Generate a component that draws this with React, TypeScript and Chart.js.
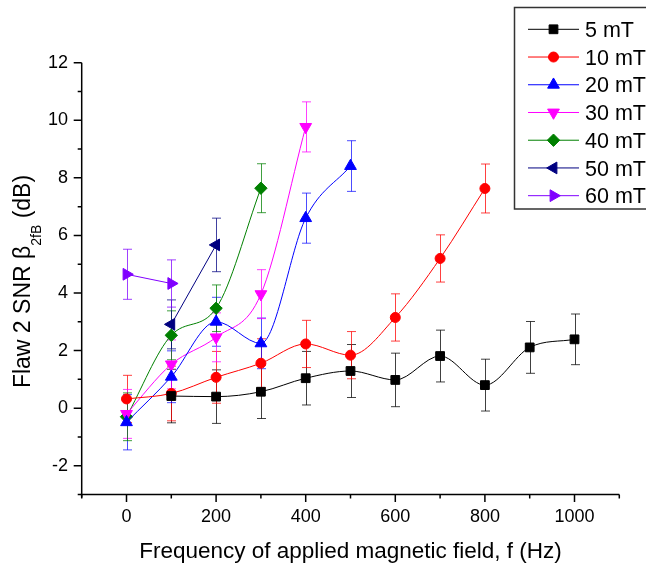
import React, { useEffect, useRef } from 'react';
import { Chart, registerables } from 'chart.js';

Chart.register(...registerables);

// ---------- data ----------
const seriesNames = ['5 mT', '10 mT', '20 mT', '30 mT', '40 mT', '50 mT', '60 mT'];

const freq5 = [100, 200, 300, 400, 500, 600, 700, 800, 900, 1000];
const snr5 = [0.42, 0.40, 0.57, 1.04, 1.29, 0.98, 1.81, 0.80, 2.11, 2.39];
const err5 = [0.93, 0.93, 0.93, 0.93, 0.92, 0.93, 0.9, 0.9, 0.9, 0.88];

const freq10 = [0, 100, 200, 300, 400, 500, 600, 700, 800];
const snr10 = [0.32, 0.51, 1.07, 1.56, 2.23, 1.84, 3.15, 5.2, 7.63];
const err10 = [0.82, 0.95, 0.9, 0.85, 0.82, 0.82, 0.82, 0.82, 0.85];

const freq20 = [0, 100, 200, 300, 400, 500];
const snr20 = [-0.49, 1.09, 3.0, 2.25, 6.6, 8.41];
const err20 = [0.96, 0.9, 0.85, 0.88, 0.87, 0.88];

const freq30 = [0, 100, 200, 300, 400];
const snr30 = [-0.2, 1.52, 2.46, 3.96, 9.77];
const err30 = [0.85, 0.85, 0.85, 0.85, 0.87];

const freq40 = [0, 100, 200, 300];
const snr40 = [-0.3, 2.53, 3.47, 7.64];
const err40 = [0.83, 0.85, 0.81, 0.85];

const freq50 = [100, 200];
const snr50 = [2.91, 5.67];
const err50 = [0.85, 0.93];

const freq60 = [0, 100];
const snr60 = [4.65, 4.33];
const err60 = [0.87, 0.82];

const xLabels = ['0', '200', '400', '600', '800', '1000'];
const yLabels = ['-2', '0', '2', '4', '6', '8', '10', '12'];

const xTitle = 'Frequency of applied magnetic field, f (Hz)';
const yTitleMain = 'Flaw 2 SNR β';
const yTitleSub = '2fB';
const yTitleEnd = ' (dB)';

// ---------- styles ----------
const colors = ['#000000', '#ff0000', '#0000ff', '#ff00ff', '#008000', '#000080', '#8000ff'];
const errColors = [
  'rgba(0,0,0,0.75)',
  'rgba(255,0,0,0.75)',
  'rgba(0,0,255,0.7)',
  'rgba(255,0,255,0.75)',
  'rgba(0,128,0,0.75)',
  'rgba(0,0,128,0.75)',
  'rgba(128,0,255,0.75)',
];
const markerStyles = ['rect', 'circle', 'triangle', 'triangle', 'rectRot', 'triangle', 'triangle'];
const markerRot = [0, 0, 0, 180, 0, -90, 90];
const markerRadius = [6.2, 5, 6.8, 6.8, 6.2, 6.8, 6.8];

const allFreq = [freq5, freq10, freq20, freq30, freq40, freq50, freq60];
const allSnr = [snr5, snr10, snr20, snr30, snr40, snr50, snr60];
const allErr = [err5, err10, err20, err30, err40, err50, err60];

const FONT = '"Liberation Sans", Arial, Helvetica, sans-serif';

function drawMarker(ctx: CanvasRenderingContext2D, style: string, rotDeg: number, r: number, x: number, y: number) {
  let rad = (rotDeg * Math.PI) / 180;
  ctx.beginPath();
  if (style === 'circle') {
    ctx.arc(x, y, r, 0, Math.PI * 2);
  } else if (style === 'rect') {
    const s = Math.SQRT1_2 * r;
    ctx.rect(x - s, y - s, 2 * s, 2 * s);
  } else if (style === 'rectRot') {
    ctx.moveTo(x - r, y);
    ctx.lineTo(x, y - r);
    ctx.lineTo(x + r, y);
    ctx.lineTo(x, y + r);
    ctx.closePath();
  } else {
    ctx.moveTo(x + Math.sin(rad) * r, y - Math.cos(rad) * r);
    rad += (2 * Math.PI) / 3;
    ctx.lineTo(x + Math.sin(rad) * r, y - Math.cos(rad) * r);
    rad += (2 * Math.PI) / 3;
    ctx.lineTo(x + Math.sin(rad) * r, y - Math.cos(rad) * r);
    ctx.closePath();
  }
  ctx.fill();
  ctx.stroke();
}

const errorBarPlugin = {
  id: 'errorBars',
  beforeDatasetsDraw(chart: any) {
    const { ctx } = chart;
    const xs = chart.scales.x;
    const ys = chart.scales.y;
    chart.data.datasets.forEach((ds: any, i: number) => {
      const errs = allErr[i];
      ctx.save();
      ctx.strokeStyle = errColors[i];
      ctx.lineWidth = 1;
      ds.data.forEach((p: any, j: number) => {
        const px = Math.round(xs.getPixelForValue(p.x)) + 0.5;
        const yt = ys.getPixelForValue(p.y + errs[j]);
        const yb = ys.getPixelForValue(p.y - errs[j]);
        ctx.beginPath();
        ctx.moveTo(px, yt);
        ctx.lineTo(px, yb);
        ctx.moveTo(px - 4.5, yt);
        ctx.lineTo(px + 4.5, yt);
        ctx.moveTo(px - 4.5, yb);
        ctx.lineTo(px + 4.5, yb);
        ctx.stroke();
      });
      ctx.restore();
    });
  },
};

const axesPlugin = {
  id: 'axesDecor',
  afterDatasetsDraw(chart: any) {
    const { ctx, chartArea } = chart;
    const xs = chart.scales.x;
    const ys = chart.scales.y;
    ctx.save();
    ctx.strokeStyle = '#000';
    ctx.lineWidth = 1.5;
    ctx.beginPath();
    ctx.moveTo(chartArea.left, chartArea.top);
    ctx.lineTo(chartArea.left, chartArea.bottom + 3);
    ctx.moveTo(chartArea.left - 1, chartArea.bottom);
    ctx.lineTo(chartArea.right, chartArea.bottom);
    ctx.stroke();
    ctx.beginPath();
    xs.ticks.forEach((t: any) => {
      const px = xs.getPixelForValue(t.value);
      const major = t.value % 200 === 0;
      ctx.moveTo(px, chartArea.bottom);
      ctx.lineTo(px, chartArea.bottom + (major ? 7.5 : 4));
    });
    ys.ticks.forEach((t: any) => {
      const py = ys.getPixelForValue(t.value);
      const major = Math.abs(t.value % 2) === 0;
      ctx.moveTo(chartArea.left, py);
      ctx.lineTo(chartArea.left - (major ? 8 : 4), py);
    });
    ctx.stroke();
    ctx.restore();
  },
  afterDraw(chart: any) {
    const { ctx } = chart;
    ctx.save();
    // x title
    ctx.fillStyle = '#000';
    ctx.font = `22.5px ${FONT}`;
    ctx.textAlign = 'center';
    ctx.textBaseline = 'alphabetic';
    ctx.fillText(xTitle, 350.5, 557.7);

    // y title (rotated, with subscript)
    const mainFont = `23px ${FONT}`;
    const subFont = `14px ${FONT}`;
    ctx.font = mainFont;
    const w1 = ctx.measureText(yTitleMain).width;
    const w3 = ctx.measureText(yTitleEnd).width;
    ctx.font = subFont;
    const w2 = ctx.measureText(yTitleSub).width;
    const total = w1 + w2 + w3;
    ctx.translate(29.5, 281.5);
    ctx.rotate(-Math.PI / 2);
    ctx.textAlign = 'left';
    let cx = -total / 2;
    ctx.font = mainFont;
    ctx.fillText(yTitleMain, cx, 0);
    cx += w1;
    ctx.font = subFont;
    ctx.fillText(yTitleSub, cx, 11);
    cx += w2;
    ctx.font = mainFont;
    ctx.fillText(yTitleEnd, cx, 0);
    ctx.restore();

    // legend
    ctx.save();
    ctx.fillStyle = '#fff';
    ctx.strokeStyle = '#333';
    ctx.lineWidth = 1.5;
    ctx.beginPath();
    ctx.rect(514.5, 7.5, 160, 201.5);
    ctx.fill();
    ctx.stroke();
    ctx.font = `21.5px ${FONT}`;
    ctx.textAlign = 'left';
    ctx.textBaseline = 'alphabetic';
    seriesNames.forEach((name, i) => {
      const cy = 29.3 + i * 27.73;
      ctx.strokeStyle = colors[i];
      ctx.lineWidth = 1;
      ctx.beginPath();
      ctx.moveTo(528, cy);
      ctx.lineTo(579, cy);
      ctx.stroke();
      ctx.fillStyle = colors[i];
      ctx.strokeStyle = colors[i];
      drawMarker(ctx, markerStyles[i], markerRot[i], markerRadius[i], 553.5, cy);
      ctx.fillStyle = '#000';
      ctx.fillText(name, 585, cy + 7.7);
    });
    ctx.restore();
  },
};

export default function App() {
  const ref = useRef<HTMLCanvasElement>(null);
  useEffect(() => {
    if (!ref.current) return;
    const datasets = seriesNames.map((name, i) => ({
      label: name,
      data: allFreq[i].map((f, j) => ({ x: f, y: allSnr[i][j] })),
      borderColor: colors[i],
      backgroundColor: colors[i],
      borderWidth: 1,
      cubicInterpolationMode: 'monotone' as const,
      pointStyle: markerStyles[i] as any,
      pointRotation: markerRot[i],
      pointRadius: markerRadius[i],
      pointBorderWidth: 1,
      pointBackgroundColor: colors[i],
      pointBorderColor: colors[i],
      clip: false as any,
    }));
    const chart = new Chart(ref.current, {
      type: 'line',
      data: { datasets },
      options: {
        animation: false,
        responsive: false,
        devicePixelRatio: 1,
        layout: { padding: { top: 62.7, right: 26.7, left: 0, bottom: 0 } },
        plugins: {
          legend: { display: false },
          tooltip: { enabled: false },
          title: { display: false },
        },
        scales: {
          x: {
            type: 'linear',
            min: -100,
            max: 1100,
            afterFit: (s: any) => {
              s.height = 567 - 494.5;
            },
            ticks: {
              stepSize: 100,
              autoSkip: false,
              maxRotation: 0,
              padding: 12,
              color: '#000',
              font: { family: FONT, size: 18 },
              callback: (v: any) => {
                const s = String(v);
                return xLabels.includes(s) ? s : '';
              },
            },
            grid: { display: false, drawTicks: false },
            border: { display: false },
          },
          y: {
            type: 'linear',
            min: -3,
            max: 12,
            afterFit: (s: any) => {
              s.width = 81.7;
            },
            ticks: {
              stepSize: 1,
              autoSkip: false,
              padding: 13.7,
              color: '#000',
              font: { family: FONT, size: 18 },
              callback: (v: any) => {
                const s = String(v);
                return yLabels.includes(s) ? s : '';
              },
            },
            grid: { display: false, drawTicks: false },
            border: { display: false },
          },
        },
      },
      plugins: [errorBarPlugin, axesPlugin],
    });
    return () => chart.destroy();
  }, []);
  return (
    <div style={{ position: 'absolute', left: 0, top: 0, width: 646, height: 567, background: '#fff' }}>
      <canvas ref={ref} width={646} height={567} style={{ display: 'block', width: 646, height: 567 }} />
    </div>
  );
}
